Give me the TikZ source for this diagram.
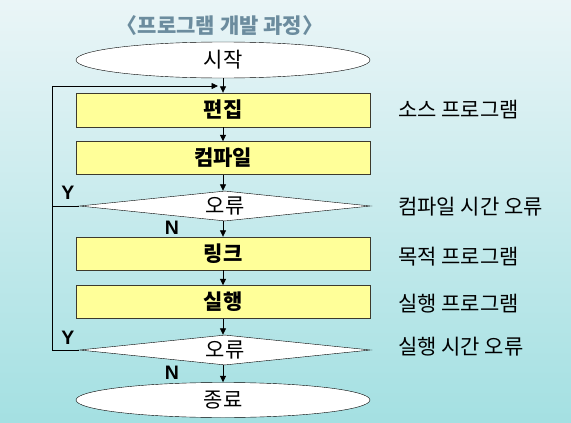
\documentclass[tikz,border=0pt]{standalone}
\usepackage{fontspec}
\setmainfont{Noto Sans CJK KR}
\newfontfamily\latinfont{Liberation Sans}
\usetikzlibrary{arrows.meta,shapes.geometric}
\definecolor{bgtop}{RGB}{234,245,247}
\definecolor{bgbot}{RGB}{164,224,226}
\definecolor{boxfill}{RGB}{255,255,153}
\definecolor{titlecol}{RGB}{108,140,158}

\begin{document}
\begin{tikzpicture}[
x=1pt,
y=-1pt,
every node/.style={font=\fontsize{21}{23}\selectfont},
terminal/.style={ellipse,draw,fill=white,inner sep=0pt,minimum width=294pt,minimum height=36pt},
process/.style={rectangle,draw=black!75!olive,fill=boxfill,inner sep=0pt,minimum width=294pt,minimum height=33pt,font=\fontsize{21}{23}\selectfont\bfseries},
decision/.style={diamond,draw,fill=white,aspect=9.7,inner sep=0pt,minimum width=291pt,minimum height=30pt},
note/.style={anchor=west,inner sep=0pt},
yn/.style={inner sep=0pt,font=\latinfont\fontsize{19.5}{21}\selectfont\bfseries},
arr/.style={-{Triangle[length=6.5pt,width=6pt]},thick}
]
\shade[top color=bgtop,bottom color=bgbot] (0,0) rectangle (571,423);
\useasboundingbox (0,0) rectangle (571,423);

\node[inner sep=0pt,text=titlecol,font=\fontsize{21}{23}\selectfont\bfseries] (title) at (220,26) {〈프로그램 개발 과정〉};
\node[terminal] (start) at (223,60) {시작};
\node[process,minimum height=34pt] (edit) at (223,110) {편집};
\node[process] (compile) at (223,158) {컴파일};
\node[decision] (err1) at (225,206) {오류};
\node[process] (link) at (223,253.5) {링크};
\node[process] (run) at (223,302) {실행};
\node[decision] (err2) at (225,350) {오류};
\node[terminal,minimum height=35pt] (stop) at (223,400) {종료};

\node[note] (src) at (398,110) {소스 프로그램};
\node[note] (cerr) at (398,207) {컴파일 시간 오류};
\node[note] (obj) at (398,257) {목적 프로그램};
\node[note] (exe) at (398,304) {실행 프로그램};
\node[note] (rerr) at (398,347) {실행 시간 오류};

\node[yn] (y1) at (68,193) {Y};
\node[yn] (n1) at (172,228) {N};
\node[yn] (y2) at (68,338) {Y};
\node[yn] (n2) at (172,373) {N};

\draw[arr] (start) -- (edit);
\draw[arr] (edit) -- (compile);
\draw[arr] (compile) -- (err1.north -| compile);
\draw[arr] (err1.south -| compile) -- (link);
\draw[arr] (link) -- (run);
\draw[arr] (run) -- (err2.north -| run);
\draw[arr] (err2.south -| run) -- (stop);

% loop back to editing
\coordinate (loopcorner) at (52,86);
\coordinate (entry) at (218,86);
\draw[thick] (err1.west) -- (err1.west -| loopcorner);
\draw[arr] (err2.west) -| (loopcorner) -- (entry);
\end{tikzpicture}
\end{document}
